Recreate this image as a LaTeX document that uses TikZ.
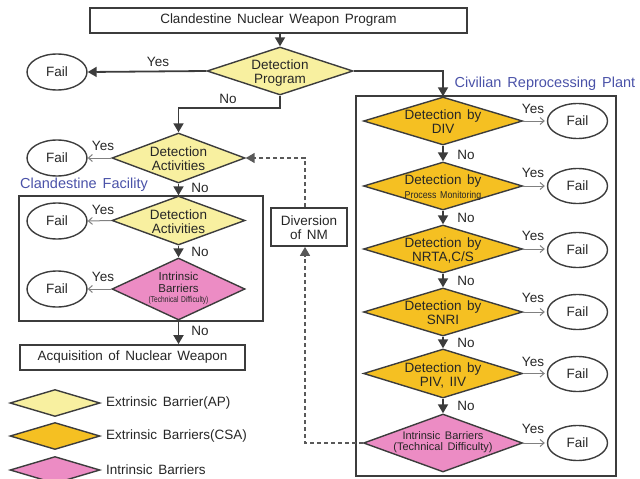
\documentclass[tikz,border=0pt]{standalone}
\usepackage{graphicx}
\usepackage{fontspec}
\setmainfont{Liberation Sans}[WordSpace=1.5]
\usetikzlibrary{shapes.geometric,arrows.meta}
\definecolor{ylw}{HTML}{F8F0A0}
\definecolor{org}{HTML}{F5C022}
\definecolor{pnk}{HTML}{EC8CC4}
\definecolor{blu}{HTML}{4A52A8}
\definecolor{ln}{HTML}{3C3C3C}
\newcommand{\dtext}[1]{\makebox[0pt]{\raisebox{-6.5pt}[0pt][0pt]{\begin{tabular}{@{}c@{}}#1\end{tabular}}}}
\begin{document}
\begin{tikzpicture}[x=1pt,y=-1pt,
  every node/.style={font=\fontsize{13.5}{14}\selectfont, text=black!85},
  dia/.style={diamond, draw=ln, line width=1.4pt, inner sep=0pt},
  failnode/.style={ellipse, draw=ln, line width=1.4pt, minimum width=60pt, minimum height=36pt, inner sep=0pt},
  boxnode/.style={rectangle, draw=ln, line width=1.8pt, inner sep=0pt},
  flw/.style={draw=ln, line width=1.8pt, -{Triangle[width=10pt,length=9pt]}},
  yesarr/.style={draw=gray, line width=1pt, -{Straight Barb[length=4pt,width=7pt]}},
  dsh/.style={draw=ln!85, line width=1.6pt, dash pattern=on 4pt off 3pt, -{Triangle[width=10pt,length=9pt]}},
  lbl/.style={inner sep=0pt},
  bluelbl/.style={inner sep=0pt, text=blu, font=\fontsize{14.5}{15}\selectfont},
]
\useasboundingbox (0,0) rectangle (640,479);

% top
\node[boxnode, minimum width=377pt, minimum height=25pt] (top) at (278.5,20.5) {Clandestine Nuclear Weapon Program};
\node[dia, fill=ylw, minimum width=146pt, minimum height=48pt] (dp) at (280,71) {\dtext{Detection\\Program}};
\node[failnode] (f0) at (57,72) {Fail};
\draw[flw] (dp.north |- top.south) -- (dp.north);
\draw[flw] (dp.west) -- (f0.east);
\node[lbl] at (158,62) {Yes};

% left
\node[dia, fill=ylw, minimum width=133pt, minimum height=50pt] (da1) at (178.5,158) {\dtext{Detection\\Activities}};
\node[failnode] (f1) at (57,158) {Fail};
\draw[yesarr] (da1.west) -- (f1.east);
\node[lbl] at (103,146) {Yes};
\draw[flw] (dp.south) -- (280,108) -| (da1.north);
\node[lbl] at (228,99) {No};

\node[bluelbl] at (84,185) {Clandestine Facility};
\node[boxnode, minimum width=244pt, minimum height=125pt] (cf) at (141,258.5) {};

\node[dia, fill=ylw, minimum width=133pt, minimum height=49pt] (da2) at (178.5,220.5) {\dtext{Detection\\Activities}};
\node[failnode] (f2) at (57,221) {Fail};
\draw[yesarr] (da2.west) -- (f2.east);
\node[lbl] at (103,210) {Yes};
\draw[flw] (da1.south) -- (da2.north);
\node[lbl] at (200,188) {No};

\node[dia, fill=pnk, minimum width=133pt, minimum height=62pt, font=\fontsize{11.5}{10.5}\selectfont] (ib1) at (178.5,289)
  {\makebox[0pt]{\begin{tabular}{@{}c@{}}Intrinsic\\Barriers\\\scalebox{0.78}[1]{\fontsize{8.5}{9}\selectfont(Technical Difficulty)}\end{tabular}}};
\node[failnode] (f3) at (57,289) {Fail};
\draw[yesarr] (ib1.west) -- (f3.east);
\node[lbl] at (103,277) {Yes};
\draw[flw] (da2.south) -- (ib1.north);
\node[lbl] at (200,252) {No};

\node[boxnode, minimum width=225pt, minimum height=25pt] (acq) at (132.5,357.5) {Acquisition of Nuclear Weapon};
\draw[flw] (ib1.south) -- (ib1.south |- acq.north);
\node[lbl] at (200,331) {No};

% diversion
\node[boxnode, minimum width=76pt, minimum height=38pt] (dv) at (309,227) {\dtext{Diversion\\of NM}};

% right column
\node[bluelbl] at (545,84) {Civilian Reprocessing Plant};
\node[boxnode, minimum width=260pt, minimum height=380pt] (rb) at (486,286) {};

\node[dia, fill=org, minimum width=159pt, minimum height=48pt] (div) at (443,121) {\dtext{Detection by\\DIV}};
\node[dia, fill=org, minimum width=159pt, minimum height=48pt] (pm) at (443,186) {\dtext{Detection by\\\scalebox{0.88}[1]{\fontsize{10}{11}\selectfont Process Monitoring}}};
\node[dia, fill=org, minimum width=159pt, minimum height=48pt] (nrta) at (443,249) {\dtext{Detection by\\NRTA,C/S}};
\node[dia, fill=org, minimum width=159pt, minimum height=48pt] (snri) at (443,312) {\dtext{Detection by\\SNRI}};
\node[dia, fill=org, minimum width=159pt, minimum height=49pt] (piv) at (443,373.5) {\dtext{Detection by\\PIV, IIV}};
\node[dia, fill=pnk, minimum width=159pt, minimum height=58pt, font=\fontsize{11}{11}\selectfont] (ib2) at (443,443) {\makebox[0pt]{\begin{tabular}{@{}c@{}}Intrinsic Barriers\\(Technical Difficulty)\end{tabular}}};

\draw[flw] (dp.east) -| (div.north);

\node[failnode, minimum height=35pt] (g1) at (577.5,121) {Fail};
\node[failnode, minimum height=35pt] (g2) at (577.5,186) {Fail};
\node[failnode, minimum height=35pt] (g3) at (577.5,250) {Fail};
\node[failnode, minimum height=35pt] (g4) at (577.5,312) {Fail};
\node[failnode, minimum height=35pt] (g5) at (577.5,374) {Fail};
\node[failnode, minimum height=35pt] (g6) at (577.5,443) {Fail};

\draw[yesarr] (div.east) -- ([xshift=-2pt]g1.west);
\draw[yesarr] (pm.east) -- ([xshift=-2pt]g2.west);
\draw[yesarr] (nrta.east) -- ([xshift=-2pt]g3.west |- nrta.east);
\draw[yesarr] (snri.east) -- ([xshift=-2pt]g4.west);
\draw[yesarr] (piv.east) -- ([xshift=-2pt]g5.west |- piv.east);
\draw[yesarr] (ib2.east) -- ([xshift=-2pt]g6.west);

\node[lbl] at (533,109) {Yes};
\node[lbl] at (533,173) {Yes};
\node[lbl] at (533,236) {Yes};
\node[lbl] at (533,298) {Yes};
\node[lbl] at (533,362) {Yes};
\node[lbl] at (533,429) {Yes};

\draw[flw] (div.south) -- (pm.north);
\draw[flw] (pm.south) -- (nrta.north);
\draw[flw] (nrta.south) -- (snri.north);
\draw[flw] (snri.south) -- (piv.north);
\draw[flw] (piv.south) -- (ib2.north);
\node[lbl] at (466,155) {No};
\node[lbl] at (466,218) {No};
\node[lbl] at (466,281) {No};
\node[lbl] at (466,343) {No};
\node[lbl] at (466,406) {No};

% dashed diversion links
\draw[dsh] ([xshift=-4pt]dv.north) |- (da1.east);
\draw[dsh] (ib2.west) -| ([xshift=-4pt]dv.south);

% legend
\node[dia, fill=ylw, minimum width=90pt, minimum height=27pt] (l1) at (55,403) {};
\node[dia, fill=org, minimum width=90pt, minimum height=27pt] (l2) at (55,436) {};
\node[dia, fill=pnk, minimum width=90pt, minimum height=27pt] (l3) at (55,470) {};
\node[lbl, anchor=west] at (106,403) {Extrinsic Barrier(AP)};
\node[lbl, anchor=west] at (106,436) {Extrinsic Barriers(CSA)};
\node[lbl, anchor=west] at (106,470) {Intrinsic Barriers};
\end{tikzpicture}
\end{document}
